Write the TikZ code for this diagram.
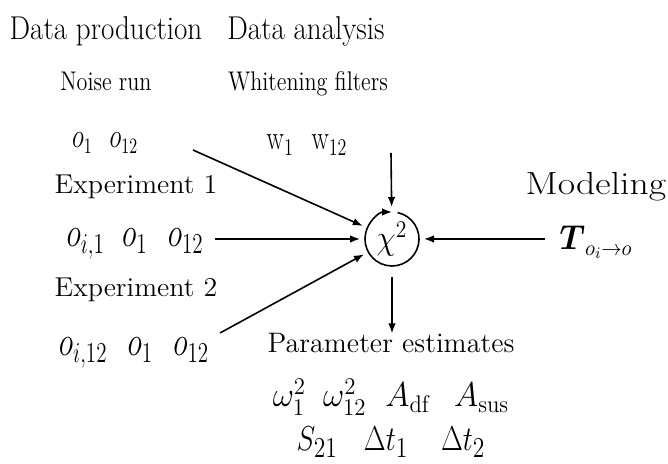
\documentclass[tikz,border=0pt]{standalone}
\usepackage{amsmath, amssymb}
\usepackage{graphicx}
\usepackage{tikz}
\usetikzlibrary{
  arrows.meta,
  positioning
}
\newcommand{\hsq}[2]{\scalebox{#1}[1]{#2}}
\tikzset{
  txt/.style = {
    anchor=base, inner sep=0pt,
    font=\fontsize{#1}{#1}\selectfont
  },
  ttl/.style = {txt=16.5},
  sub/.style = {txt=13.5},
  expt/.style = {txt=13.6},
  par/.style = {txt=14.1},
  mdl/.style = {txt=16},
  mth/.style = {txt=#1},
  chis/.style = {
    circle, minimum size=27pt, inner sep=0pt, outer sep=2.5pt,
    font=\fontsize{18}{18}\selectfont
  },
  arr/.style = {-{Latex[length=5pt,width=3.8pt]}, line width=0.8pt},
}

\begin{document}
\begin{tikzpicture}[x=0.5pt, y=0.5pt]
  \useasboundingbox (0,0) rectangle (668,464);

  %% Column heads
  \node[ttl] (prod)  at (106,424) {\hsq{0.88}{Data production}};
  \node[ttl] (anal)  at (306,424) {\hsq{0.88}{Data analysis}};
  \node[mdl] (model) at (596,269) {\hsq{1.18}{Modeling}};

  %% Data production
  \node[sub]     (noise) at (106,373) {\hsq{0.82}{Noise run}};
  \node[mth=16]  (nrow)  at (105,316) {\hsq{0.72}{$o_1$\hspace{12pt}$o_{12}$}};
  \node[expt]    (exp1)  at (136,270) {\hsq{1.03}{Experiment 1}};
  \node[mth=20]  (erow1) at (135,217)
    {\hsq{0.73}{$o_{i,1}$\hspace{12pt}$o_1$\hspace{14pt}$o_{12}$}};
  \node[expt]    (exp2)  at (136,167) {\hsq{1.03}{Experiment 2}};
  \node[mth=20]  (erow2) at (134,108)
    {\hsq{0.73}{$o_{i,12}$\hspace{14pt}$o_1$\hspace{14pt}$o_{12}$}};

  %% Data analysis
  \node[sub]     (whiten) at (308,373) {\hsq{0.82}{Whitening filters}};
  \node[mth=17]  (wrow)   at (307,314)
    {\hsq{0.75}{$\mathrm{w}_1$\hspace{12pt}$\mathrm{w}_{12}$}};
  \node[chis]    (chi)    at (392,225) {\hsq{0.9}{$\chi^2$}};
  \node[par]     (param)  at (391,111) {Parameter estimates};
  \node[mth=18]  (prow1)  at (391,57)
    {\hsq{0.95}{$\omega_1^2$\hspace{9pt}$\omega_{12}^2$\hspace{10pt}$A_{\mathrm{df}}$\hspace{12pt}$A_{\mathrm{sus}}$}};
  \node[mth=19]  (prow2)  at (391,13)
    {\hsq{0.82}{$S_{21}$\hspace{16pt}$\Delta t_1$\hspace{20pt}$\Delta t_2$}};

  %% Modeling
  \node[mth=16]  (tmap)   at (596,214) {\hsq{0.93}{$\boldsymbol{T}_{o_i\to o}$}};

  %% Arrow tails
  \coordinate (t1) at (193,314);
  \coordinate (t2) at (215,225);
  \coordinate (t3) at (220,131);
  \coordinate (tw) at (391,311);
  \coordinate (tm) at (545,225);

  %% Arrows
  \draw[arr] (t1) -- (chi);
  \draw[arr] (t2) -- (chi);
  \draw[arr] (t3) -- (chi);
  \draw[arr] (tw) -- (chi);
  \draw[arr] (tm) -- (chi);
  \draw[arr, shorten <=3pt] (chi) -- (chi |- param.north);

  %% Iteration loop
  \draw[arr] ([shift={(78:27)}]chi.center)
    arc[start angle=78, end angle=-270, radius=13.5pt];

\end{tikzpicture}
\end{document}
